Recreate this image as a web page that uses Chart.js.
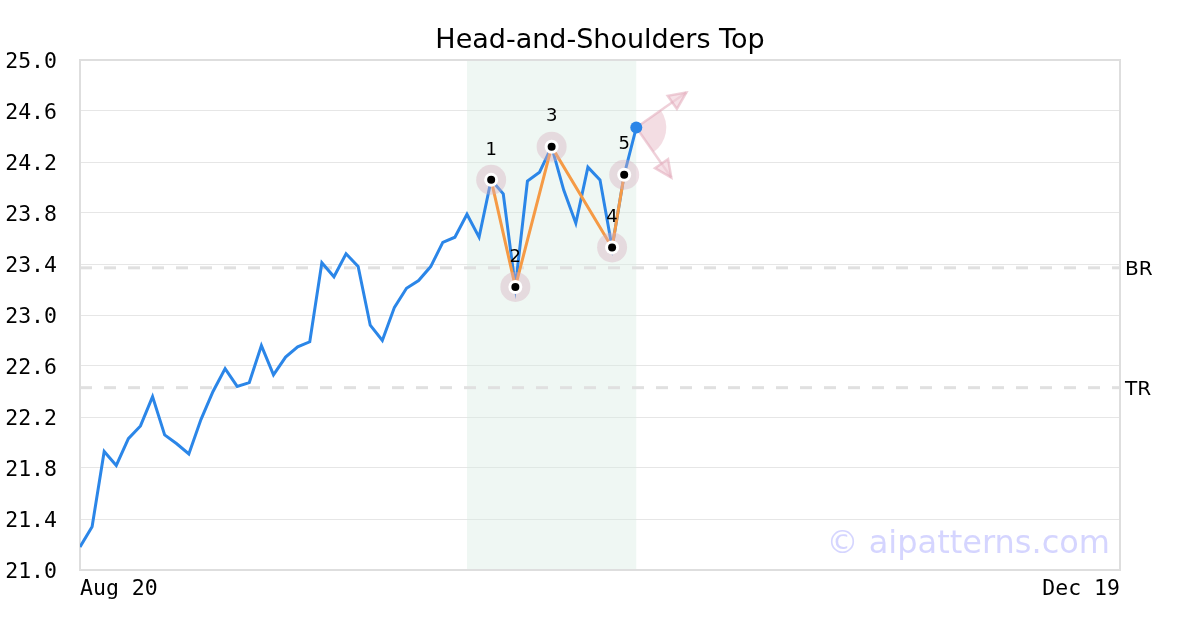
<!DOCTYPE html>
<html>
<head>
<meta charset="utf-8">
<script src="https://cdn.jsdelivr.net/npm/chart.js@4.4.1/dist/chart.umd.min.js"></script>
<style>
  html, body { margin: 0; padding: 0; background: #fff; }
  #wrap { width: 1200px; height: 630px; }
</style>
</head>
<body>
<div id="wrap"><canvas id="mycanvas" width="1200" height="630"></canvas></div>
<script>
// price series (one value per trading day, index 0 = Aug 20)
var prices = [
	21.18, 21.34, 21.93, 21.82, 22.03, 22.13, 22.36, 22.06, 21.99, 21.91,
	22.18, 22.40, 22.58, 22.44, 22.47, 22.76, 22.53, 22.67, 22.75, 22.79,
	23.41, 23.30, 23.48, 23.38, 22.92, 22.80, 23.06, 23.21, 23.27, 23.38,
	23.57, 23.61, 23.79, 23.61, 24.06, 23.95, 23.22, 24.05, 24.12, 24.32,
	23.98, 23.72, 24.16, 24.06, 23.53, 24.10, 24.47
];
var lastIndex = 86;               // Dec 19
var tickLabels = ["Aug 20", "Dec 19"];
var tickIndex = [0, 86];

// pattern pivots
var pivotIndex = [34, 36, 39, 44, 45];
var pivotNames = ["1", "2", "3", "4", "5"];
var zoneStart = 32, zoneEnd = 46;

// levels
var levelNames = ["BR", "TR"];
var levelValues = [23.37, 22.43];

var yTicks = [21.0, 21.4, 21.8, 22.2, 22.6, 23.0, 23.4, 23.8, 24.2, 24.6, 25.0];

var pricePoints = [];
for (var i in prices) {
	pricePoints.push({x: Number(i), y: prices[i]});
}
var pivotPoints = [];
for (var j in pivotIndex) {
	pivotPoints.push({x: pivotIndex[j], y: prices[pivotIndex[j]]});
}
var endPoint = [{x: prices.length - 1, y: prices[prices.length - 1]}];

var extras = {
	id: 'extras',
	beforeDatasetsDraw: function(chart) {
		var ctx = chart.ctx, a = chart.chartArea;
		var xs = chart.scales.x, ys = chart.scales.y;
		ctx.save();
		// pattern zone
		var x0 = xs.getPixelForValue(zoneStart), x1 = xs.getPixelForValue(zoneEnd);
		ctx.fillStyle = "rgba(214, 236, 226, 0.4)";
		ctx.fillRect(x0, a.top, x1 - x0, a.bottom - a.top);
		// level lines
		ctx.strokeStyle = "#e0e0e0";
		ctx.lineWidth = 3;
		ctx.setLineDash([12, 12]);
		ctx.fillStyle = "#000";
		ctx.font = "20px 'DejaVu Sans'";
		ctx.textBaseline = "middle";
		ctx.textAlign = "left";
		for (var k in levelValues) {
			var y = ys.getPixelForValue(levelValues[k]);
			ctx.beginPath();
			ctx.moveTo(a.left, y);
			ctx.lineTo(a.right, y);
			ctx.stroke();
			ctx.fillText(levelNames[k], a.right + 5, y + 2);
		}
		ctx.setLineDash([]);
		// frame
		ctx.strokeStyle = "#dedede";
		ctx.lineWidth = 2;
		ctx.strokeRect(a.left, a.top, a.right - a.left, a.bottom - a.top);

		// projection wedge + arrows from last point (under the line)
		var px = xs.getPixelForValue(endPoint[0].x), py = ys.getPixelForValue(endPoint[0].y);
		var up = -35 * Math.PI / 180, down = 55 * Math.PI / 180;
		ctx.fillStyle = "rgba(225, 170, 185, 0.4)";
		ctx.beginPath();
		ctx.moveTo(px, py);
		ctx.arc(px, py, 30, up, down);
		ctx.closePath();
		ctx.fill();
		var angs = [up, down];
		ctx.strokeStyle = "rgba(225, 170, 185, 0.55)";
		ctx.fillStyle = "rgba(240, 205, 215, 0.6)";
		ctx.lineWidth = 2.5;
		for (var m in angs) {
			var t = angs[m], len = 61;
			var tx = px + Math.cos(t) * len, ty = py + Math.sin(t) * len;
			ctx.beginPath();
			ctx.moveTo(px, py);
			ctx.lineTo(tx, ty);
			ctx.stroke();
			var bx = tx - Math.cos(t) * 17, by = ty - Math.sin(t) * 17;
			ctx.beginPath();
			ctx.moveTo(tx, ty);
			ctx.lineTo(bx + Math.sin(t) * 8, by - Math.cos(t) * 8);
			ctx.lineTo(bx - Math.sin(t) * 8, by + Math.cos(t) * 8);
			ctx.closePath();
			ctx.fill();
			ctx.stroke();
		}
		ctx.restore();
	},
	afterDatasetsDraw: function(chart) {
		var ctx = chart.ctx, a = chart.chartArea;
		var xs = chart.scales.x, ys = chart.scales.y;
		ctx.save();
		// pivot numbers
		ctx.fillStyle = "#000";
		ctx.font = "18px 'DejaVu Sans'";
		ctx.textAlign = "center";
		ctx.textBaseline = "middle";
		for (var k in pivotPoints) {
			ctx.fillText(pivotNames[k], xs.getPixelForValue(pivotPoints[k].x), ys.getPixelForValue(pivotPoints[k].y) - 30);
		}
		// title
		ctx.fillStyle = "#000";
		ctx.font = "27px 'DejaVu Sans'";
		ctx.textAlign = "center";
		ctx.textBaseline = "middle";
		ctx.fillText("Head-and-Shoulders Top", chart.width / 2, 41);
		// watermark
		ctx.fillStyle = "rgba(190, 190, 255, 0.65)";
		ctx.font = "32px 'DejaVu Sans'";
		ctx.textAlign = "right";
		ctx.textBaseline = "alphabetic";
		ctx.fillText("\u00a9 aipatterns.com", a.right - 10, a.bottom - 17);
		ctx.restore();
	}
};

var ctx = document.getElementById("mycanvas");

var chart = new Chart(ctx, {
	type: 'line',
	data: {
		datasets: [
			{
				label: "Price",
				data: pricePoints,
				borderColor: "#2b86e8",
				borderWidth: 3,
				pointRadius: 0,
				tension: 0,
				order: 5
			},
			{
				label: "Pattern",
				data: pivotPoints,
				borderColor: "#f59a45",
				borderWidth: 3,
				pointRadius: 0,
				tension: 0,
				order: 4
			},
			{
				label: "Halo",
				data: pivotPoints,
				showLine: false,
				pointRadius: 15,
				pointBorderWidth: 0,
				pointBackgroundColor: "rgba(215, 175, 190, 0.4)",
				order: 3
			},
			{
				label: "Ring",
				data: pivotPoints,
				showLine: false,
				pointRadius: 7,
				pointBorderWidth: 0,
				pointBackgroundColor: "#ffffff",
				order: 2
			},
			{
				label: "Dot",
				data: pivotPoints,
				showLine: false,
				pointRadius: 4,
				pointBorderWidth: 0,
				pointBackgroundColor: "#000000",
				order: 1
			},
			{
				label: "Last",
				data: endPoint,
				showLine: false,
				pointRadius: 6,
				pointBorderWidth: 0,
				pointBackgroundColor: "#2b86e8",
				order: 0
			}
		]
	},
	options: {
		responsive: false,
		animation: false,
		events: [],
		layout: { padding: { top: 60, right: 80, left: 0, bottom: 0 } },
		plugins: {
			legend: { display: false },
			title: { display: false },
			tooltip: { enabled: false }
		},
		scales: {
			x: {
				type: 'linear',
				min: 0,
				max: lastIndex,
				grid: { display: false, drawTicks: false },
				border: { display: false },
				afterBuildTicks: function(scale) {
					scale.ticks = tickIndex.map(function(v) { return {value: v}; });
				},
				afterFit: function(scale) { scale.height = 60; },
				ticks: {
					align: 'inner',
					maxRotation: 0,
					padding: 7,
					color: "#000",
					font: { family: "'DejaVu Sans Mono'", size: 21.5 },
					callback: function(value) {
						var n = tickIndex.indexOf(value);
						return n >= 0 ? tickLabels[n] : "";
					}
				}
			},
			y: {
				min: 21,
				max: 25,
				grid: { color: "#e6e6e6", lineWidth: 1, drawTicks: false },
				border: { display: false },
				afterBuildTicks: function(scale) {
					scale.ticks = yTicks.map(function(v) { return {value: v}; });
				},
				afterFit: function(scale) { scale.width = 80; },
				ticks: {
					padding: 23,
					labelOffset: 2,
					color: "#000",
					font: { family: "'DejaVu Sans Mono'", size: 21.5 },
					callback: function(value) { return Number(value).toFixed(1); }
				}
			}
		}
	},
	plugins: [extras]
});
</script>
</body>
</html>
